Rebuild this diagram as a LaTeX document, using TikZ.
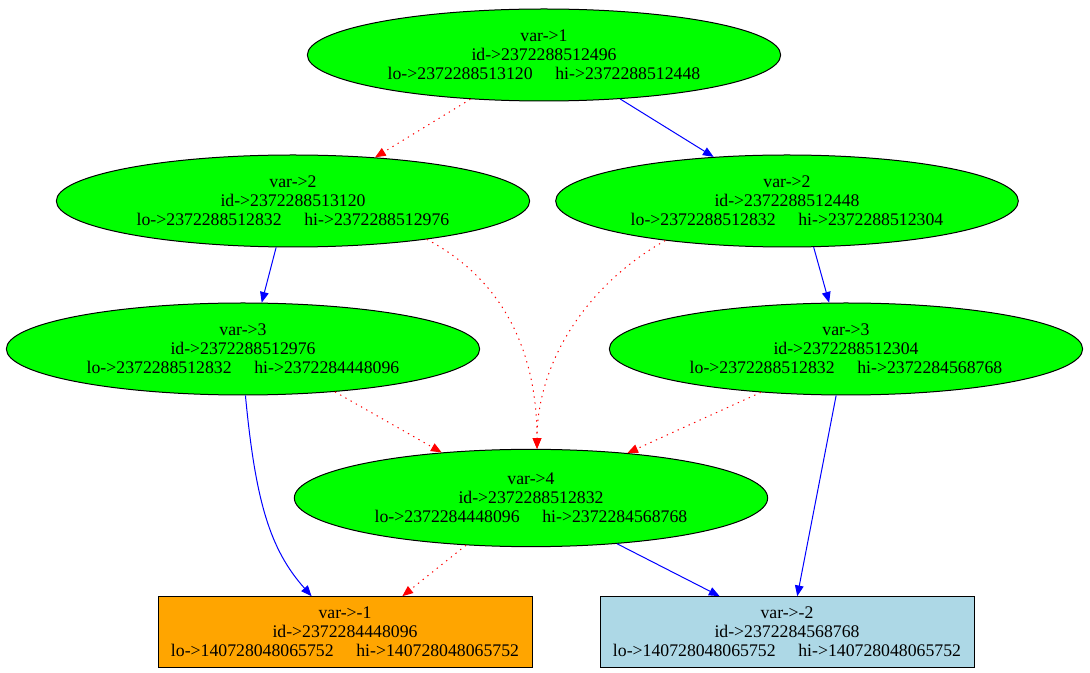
\documentclass[tikz,border=0pt]{standalone}
\usepackage{fontspec}
\setmainfont{Liberation Serif}
\usepackage{tikz}
\usetikzlibrary{shapes.geometric, arrows.meta, calc}

\definecolor{bddgreen}{HTML}{00FF00}
\definecolor{termorange}{HTML}{FFA500}
\definecolor{termblue}{HTML}{ADD8E6}

\newcommand{\gap}{\hspace{17pt}}

\begin{document}
\begin{tikzpicture}[%
  x=0.75pt, y=-0.75pt,%
  every node/.style={font=\fontsize{13.3}{14.3}\selectfont, align=center, inner sep=0pt},%
  bddnode/.style={ellipse, draw=black, line width=0.75pt, fill=bddgreen, minimum width=355pt, minimum height=69pt},%
  termnode/.style={rectangle, draw=black, line width=0.75pt, minimum width=280.5pt, minimum height=53pt},%
  hiedge/.style={-{Triangle[length=8pt, width=6.5pt, fill=blue]}, draw=blue, line width=0.75pt},%
  loedge/.style={-{Triangle[length=8pt, width=6.5pt, fill=red]}, draw=red, line width=0.75pt, dash pattern=on 1pt off 3.5pt}%
]
  \useasboundingbox (0,0) rectangle (1090,673);

  % decision nodes
  \node[bddnode] (v1) at (544,55) {var->1\\id->2372288512496\\lo->2372288513120\gap hi->2372288512448};
  \node[bddnode] (v2a) at (293,201) {var->2\\id->2372288513120\\lo->2372288512832\gap hi->2372288512976};
  \node[bddnode, minimum width=347pt] (v2b) at (787,201) {var->2\\id->2372288512448\\lo->2372288512832\gap hi->2372288512304};
  \node[bddnode] (v3a) at (243,349) {var->3\\id->2372288512976\\lo->2372288512832\gap hi->2372284448096};
  \node[bddnode] (v3b) at (846,349) {var->3\\id->2372288512304\\lo->2372288512832\gap hi->2372284568768};
  \node[bddnode, minimum height=73pt] (v4) at (531,498) {var->4\\id->2372288512832\\lo->2372284448096\gap hi->2372284568768};

  % terminals
  \node[termnode, fill=termorange] (t1) at (345,632) {var->-1\\id->2372284448096\\lo->140728048065752\gap hi->140728048065752};
  \node[termnode, fill=termblue] (t2) at (787,632) {var->-2\\id->2372284568768\\lo->140728048065752\gap hi->140728048065752};

  % edges
  \draw[loedge] (v1.211) -- (v2a.28);
  \draw[hiedge] (v1.-30) -- (v2b.149);
  \draw[hiedge] (v2a.250) -- (v3a.68);
  \draw[loedge] (v2a.-16) .. controls +(85,45) and +(0,-85) .. (v4.83);
  \draw[hiedge] (v2b.-60) -- (v3b.110);
  \draw[loedge] (v2b.198) .. controls +(-80,45) and +(0,-85) .. (v4.83);
  \draw[loedge] (v3a.-25) -- (v4.153);
  \draw[loedge] (v3b.207) -- (v4.25);
  \draw[hiedge] (v3a.-87) .. controls +(10,105) and +(-42,-47) .. (t1.133);
  \draw[loedge] (v4.216) -- (t1.32);
  \draw[hiedge] (v4.-28) -- (t2.152);
  \draw[hiedge] (v3b.258) -- (t2.74);
\end{tikzpicture}
\end{document}
